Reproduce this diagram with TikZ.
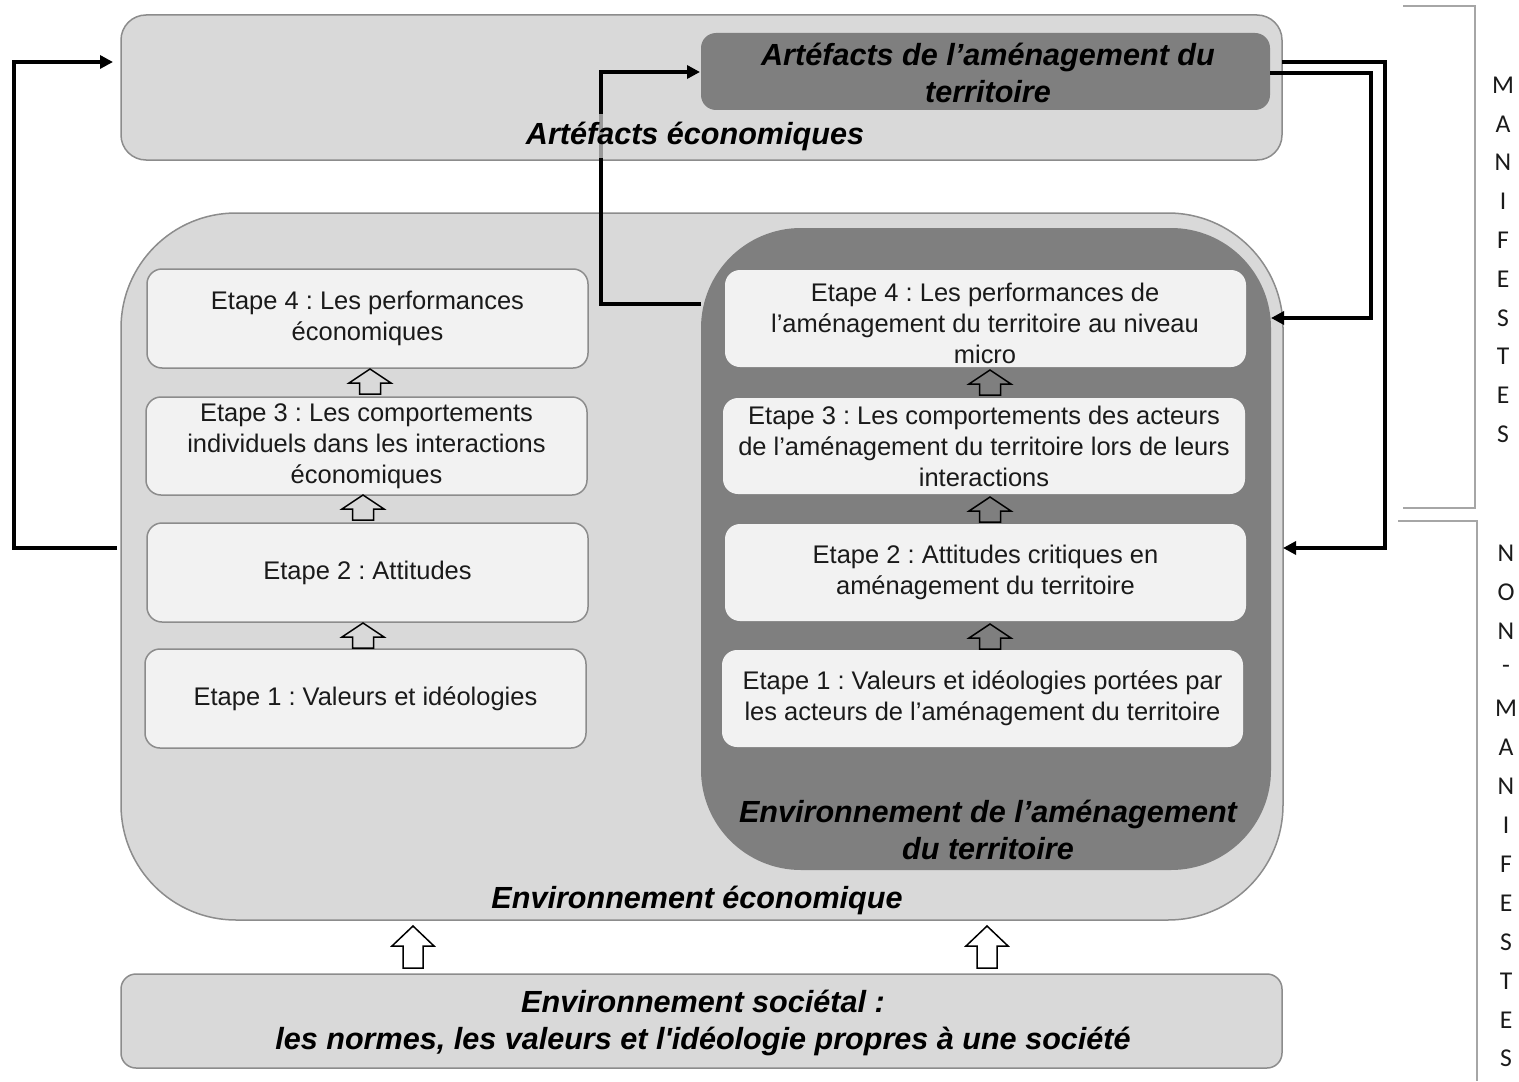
\documentclass[tikz,border=0pt]{standalone}
\usepackage{fontspec}
\setmainfont{Liberation Sans}
\newfontfamily\carl{Carlito}
\usetikzlibrary{arrows.meta}
\definecolor{grayL}{HTML}{D9D9D9}
\definecolor{grayM}{HTML}{7F7F7F}
\definecolor{stepF}{HTML}{F2F2F2}
\definecolor{bordC}{HTML}{8C8C8C}
\definecolor{brkC}{HTML}{A6A6A6}
\definecolor{txtC}{HTML}{1A1A1A}
\newcommand\stepfont{\fontsize{14.5}{17.6}\selectfont}
\newcommand\titlefont{\fontsize{17.4}{21.4}\selectfont\bfseries\itshape}
\frenchspacing
\begin{document}
\begin{tikzpicture}[x=0.2mm,y=-0.2mm,
  sz/.style 2 args={minimum width=#1*0.2mm, minimum height=#2*0.2mm},
  base/.style={anchor=north west, inner sep=0pt, outer sep=0pt},
  graybox/.style={base, draw=bordC, line width=0.3mm, fill=grayL},
  darkbox/.style={base, fill=grayM},
  lstepbox/.style={base, draw=bordC, line width=0.3mm, fill=stepF, rounded corners=3mm, font=\stepfont, text=txtC, align=center},
  rstepbox/.style={base, fill=stepF, rounded corners=3mm, font=\stepfont, text=txtC, align=center},
  steptxt/.style={font=\stepfont, text=txtC, align=center, inner sep=0pt},
  titletxt/.style={font=\titlefont, align=center, inner sep=0pt, text=black},
  conn/.style={line width=0.7mm, line join=miter, -{Triangle[length=2.6mm,width=2.6mm]}},
  brk/.style={draw=brkC, line width=0.3mm},
  lettr/.style={font=\carl\fontsize{14.6}{17}\selectfont, text=txtC, inner sep=0pt},
  upsmall/.pic={\draw[line width=0.3mm, line join=miter, draw=black] (0,0) -- (21,14) -- (10.5,14) -- (10.5,25) -- (-10.5,25) -- (-10.5,14) -- (-21,14) -- cycle;},
  upbig/.pic={\draw[line width=0.3mm, line join=miter, draw=black] (0,0) -- (21,20) -- (10,20) -- (10,42) -- (-10,42) -- (-10,20) -- (-21,20) -- cycle;}
]
\useasboundingbox (0,0) rectangle (1519,1081);

% containers
\node[graybox, sz={1161}{145}, rounded corners=5mm] (top) at (121,15) {};
\node[darkbox, sz={569}{77}, rounded corners=3mm] (art) at (701,33) {};
\node[graybox, sz={1162}{707}, rounded corners=23mm] (eco) at (121,213) {};
\node[darkbox, sz={570}{642}, rounded corners=20mm] (amen) at (701,228) {};
\node[graybox, sz={1161}{94}, rounded corners=3mm] (soc) at (121,974) {};

% left steps
\node[lstepbox, sz={441}{99}] (L4) at (147,269) {Etape 4 : Les performances\\économiques};
\node[lstepbox, sz={441}{98}] (L3) at (146,397) {Etape 3 : Les comportements\\individuels dans les interactions\\économiques};
\node[lstepbox, sz={441}{99}] (L2) at (147,523) {Etape 2 : Attitudes};
\node[lstepbox, sz={441}{99}] (L1) at (145,649) {Etape 1 : Valeurs et idéologies};

% right steps
\node[rstepbox, sz={521}{97}] (R4) at (725,270) {};
\node[steptxt] (R4t) at (985,323) {Etape 4 : Les performances de\\l’aménagement du territoire au niveau\\micro};
\node[rstepbox, sz={522}{96}] (R3) at (723,398) {Etape 3 : Les comportements des acteurs\\de l’aménagement du territoire lors de leurs\\interactions};
\node[rstepbox, sz={521}{97}] (R2) at (725,524) {Etape 2 : Attitudes critiques en\\aménagement du territoire};
\node[rstepbox, sz={521}{97}] (R1) at (722,650) {Etape 1 : Valeurs et idéologies portées par\\les acteurs de l’aménagement du territoire};

% block arrows
\pic (la1) at (370,369) {upsmall};
\pic (la2) at (363,495) {upsmall};
\pic (la3) at (363,623) {upsmall};
\pic (ra1) at (990,370) {upsmall};
\pic (ra2) at (990,497) {upsmall};
\pic (ra3) at (990,624) {upsmall};
\pic (ba1) at (413,926) {upbig};
\pic (ba2) at (987,926) {upbig};

% connectors
\coordinate (ecoOut) at (117,548);
\coordinate (topIn) at (113,62);
\coordinate (amenOut) at (701,304);
\coordinate (artIn) at (700,72);
\coordinate (artOutA) at (1282,62);
\coordinate (ecoIn) at (1283,548);
\coordinate (artOutB) at (1270,73);
\coordinate (amenIn) at (1271,318);
\draw[conn] (ecoOut) -- ++(-103,0) |- (topIn);
\draw[conn] (amenOut) -- ++(-100,0) |- (artIn);
\draw[conn] (artOutA) -- ++(103,0) |- (ecoIn);
\draw[conn] (artOutB) -- ++(101,0) |- (amenIn);

% titles
\node[titletxt, fill=grayL, fill opacity=0.7, text opacity=1, minimum height=8.6mm, minimum width=80mm] (tEco) at (695,136) {Artéfacts économiques};
\node[titletxt] (tArt) at (988,73) {Artéfacts de l’aménagement du\\territoire};
\node[titletxt] (tAmen) at (988,830) {Environnement de l’aménagement\\du territoire};
\node[titletxt] (tEnv) at (697,900) {Environnement économique};
\node[titletxt] (tSoc) at (703,1023) {Environnement sociétal :\\les normes, les valeurs et l\textquotesingle idéologie propres à une société};

% brackets
\draw[brk] (1403,6) -- (1475,6) -- (1475,508) -- (1403,508);
\draw[brk] (1398,521) -- (1477,521) -- (1477,1081);

% vertical labels
\foreach \c [count=\i] in {M,A,N,I,F,E,S,T,E,S}
  \node[lettr] (m\i) at (1503,{85+38.8*(\i-1)}) {\c};
\foreach \c [count=\i] in {N,O,N,-,M,A,N,I,F,E,S,T,E,S}
  \node[lettr] (n\i) at (1506,{553+38.9*(\i-1)}) {\c};
\end{tikzpicture}
\end{document}
